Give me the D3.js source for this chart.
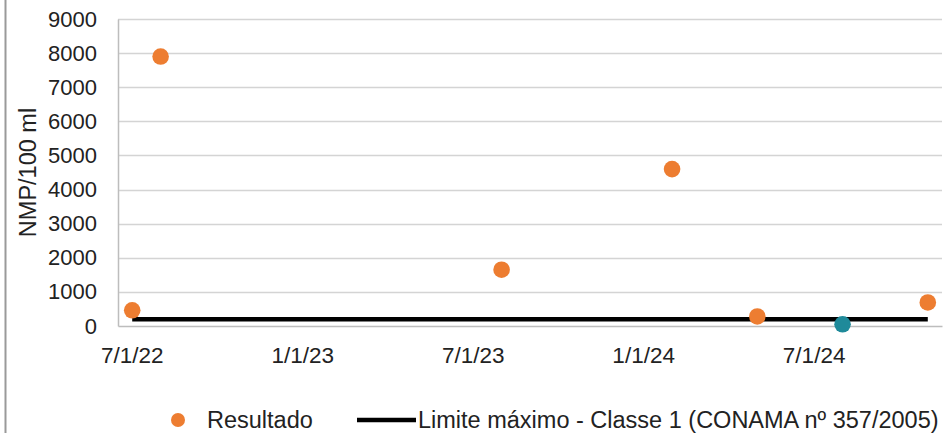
<!DOCTYPE html>
<html>
<head>
<meta charset="utf-8">
<script src="https://cdn.jsdelivr.net/npm/d3@7"></script>
<style>
  html, body { margin: 0; padding: 0; background: #fff; }
  svg { display: block; font-family: "Liberation Sans", Arial, sans-serif; }
</style>
</head>
<body>
<svg id="chart" width="950" height="433"></svg>
<script>
// Monthly sampling slots on the time axis (one band per month, Jul/2022 to Nov/2024)
const meses = d3.utcMonth.range(new Date(Date.UTC(2022, 6, 1)), new Date(Date.UTC(2024, 11, 1)))
  .map(d => d3.utcFormat("%Y-%m")(d));

// Sample results (NMP/100 ml)
const datasAmostra = ["2022-07", "2022-08", "2023-08", "2024-02", "2024-05", "2024-08", "2024-11"];
const resultados   = [460, 7900, 1650, 4600, 280, 50, 690];
// Sample shown with a distinct colour
const amostraDestaque = ["2024-08"];

// Maximum limit for Class 1 (CONAMA nº 357/2005)
const limiteMaximo = 200;

// Axis ticks
const yTicks = [0, 1000, 2000, 3000, 4000, 5000, 6000, 7000, 8000, 9000];
const xTickMeses = ["2022-07", "2023-01", "2023-07", "2024-01", "2024-07"];
const xTickLabels = ["7/1/22", "1/1/23", "7/1/23", "1/1/24", "7/1/24"];

const legendaResultado = "Resultado";
const legendaLimite = "Limite máximo - Classe 1 (CONAMA nº 357/2005)";
const tituloY = "NMP/100 ml";

const svg = d3.select("#chart");
const plot = { left: 118, right: 942, top: 19, bottom: 326 };

const x = d3.scaleBand().domain(meses).range([plot.left, plot.right]).padding(0);
const cx = m => x(m) + x.bandwidth() / 2;
const y = d3.scaleLinear().domain([0, 9000]).range([plot.bottom, plot.top]);

// outer frame edge
svg.append("line")
  .attr("x1", 5.5).attr("x2", 5.5).attr("y1", 0).attr("y2", 433)
  .attr("stroke", "#9a9a9a").attr("stroke-width", 2);

// horizontal gridlines
svg.append("g")
  .selectAll("line")
  .data(yTicks.filter(v => v > 0))
  .join("line")
  .attr("x1", plot.left).attr("x2", plot.right)
  .attr("y1", d => Math.round(y(d)) + 0.5).attr("y2", d => Math.round(y(d)) + 0.5)
  .attr("stroke", "#d4d4d4").attr("stroke-width", 1.3);

// y axis
const yAxis = svg.append("g")
  .attr("transform", `translate(${plot.left},0)`)
  .call(d3.axisLeft(y).tickValues(yTicks).tickSize(0).tickPadding(21).tickFormat(d3.format("d")));
yAxis.select(".domain").attr("stroke", "#bdbdbd").attr("stroke-width", 1.5);
yAxis.selectAll("text").attr("font-size", 22).attr("fill", "#222")
  .attr("font-family", "Liberation Sans, Arial, sans-serif");

// x axis
const xAxis = svg.append("g")
  .attr("transform", `translate(0,${plot.bottom})`)
  .call(d3.axisBottom(x).tickValues(xTickMeses).tickSize(0).tickPadding(21)
    .tickFormat(m => xTickLabels[xTickMeses.indexOf(m)]));
xAxis.select(".domain").attr("stroke", "#bdbdbd").attr("stroke-width", 1.5);
xAxis.selectAll("text").attr("font-size", 22.5).attr("fill", "#222")
  .attr("font-family", "Liberation Sans, Arial, sans-serif");

// y axis title
svg.append("text")
  .attr("transform", `translate(36,${(plot.top + plot.bottom) / 2}) rotate(-90)`)
  .attr("text-anchor", "middle")
  .attr("font-size", 23.5).attr("fill", "#222")
  .text(tituloY);

// limit line
svg.append("path")
  .datum(meses)
  .attr("d", d3.line().x(m => cx(m)).y(() => y(limiteMaximo)))
  .attr("fill", "none").attr("stroke", "#000").attr("stroke-width", 4.5);

// sample points
svg.append("g")
  .selectAll("circle")
  .data(datasAmostra.map((m, i) => ({ m, v: resultados[i] })))
  .join("circle")
  .attr("cx", d => cx(d.m))
  .attr("cy", d => y(d.v))
  .attr("r", 8.3)
  .attr("fill", d => amostraDestaque.includes(d.m) ? "#1f8a9a" : "#ed7d31");

// legend
const leg = svg.append("g").attr("transform", "translate(0,420)");
leg.append("circle").attr("cx", 178).attr("cy", 0).attr("r", 7).attr("fill", "#ed7d31");
leg.append("text").attr("x", 207).attr("y", 8).attr("font-size", 23.5).attr("fill", "#222")
  .text(legendaResultado);
leg.append("line").attr("x1", 357).attr("x2", 416).attr("y1", 0).attr("y2", 0)
  .attr("stroke", "#000").attr("stroke-width", 4.5);
leg.append("text").attr("x", 418).attr("y", 8).attr("font-size", 23.5).attr("fill", "#222")
  .text(legendaLimite);
</script>
</body>
</html>
